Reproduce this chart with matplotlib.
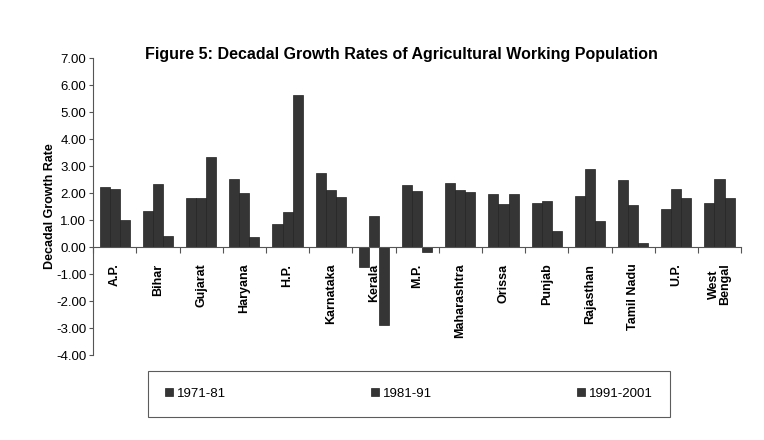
import numpy as np
import matplotlib
matplotlib.use("Agg")
import matplotlib.pyplot as plt

plt.rcParams['font.family'] = ['Liberation Sans', 'DejaVu Sans']

states = ["A.P.", "Bihar", "Gujarat", "Haryana", "H.P.", "Karnataka", "Kerala",
          "M.P.", "Maharashtra", "Orissa", "Punjab", "Rajasthan", "Tamil Nadu",
          "U.P.", "West\nBengal"]
g_1971_81 = [2.22, 1.33, 1.80, 2.52, 0.85, 2.74, -0.72, 2.30, 2.37, 1.95, 1.65, 1.90, 2.50, 1.40, 1.63]
g_1981_91 = [2.15, 2.33, 1.82, 2.00, 1.30, 2.10, 1.15, 2.07, 2.10, 1.60, 1.70, 2.90, 1.55, 2.15, 2.52]
g_1991_01 = [1.00, 0.40, 3.33, 0.37, 5.63, 1.85, -2.88, -0.20, 2.05, 1.95, 0.60, 0.95, 0.15, 1.80, 1.80]
series_names = ["1971-81", "1981-91", "1991-2001"]

bar_color = "#353535"

fig = plt.figure(figsize=(7.64, 4.40), dpi=100)
ax = fig.add_axes([0.122, 0.193, 0.848, 0.675])

x = np.arange(len(states))
w = 0.233
for i, (vals, name) in enumerate(zip([g_1971_81, g_1981_91, g_1991_01], series_names)):
    ax.bar(x + (i - 1) * w, vals, width=w, color=bar_color, edgecolor="#222222",
           linewidth=0.5, label=name)

ax.set_xlim(-0.5, len(states) - 0.5)
ax.set_ylim(-4, 7)
ax.set_yticks(np.arange(-4, 8, 1))
ax.set_yticklabels([f"{v:.2f}" for v in np.arange(-4, 8, 1)], fontsize=9.5)

ax.spines['top'].set_visible(False)
ax.spines['right'].set_visible(False)
ax.spines['bottom'].set_position(('data', 0))
ax.spines['bottom'].set_color("#555555")
ax.spines['left'].set_color("#555555")

ax.set_xticks(np.arange(len(states) + 1) - 0.5)
ax.set_xticklabels([])
ax.set_xticks(x, minor=True)
ax.set_xticklabels(states, minor=True, rotation=90, fontsize=9, fontweight='bold',
                   va='top', linespacing=0.9)
ax.tick_params(axis='x', which='major', length=4, direction='out', color="#555555")
ax.tick_params(axis='x', which='minor', length=0, pad=12)
ax.tick_params(axis='y', length=3, color="#555555", pad=2)

ax.set_ylabel("Decadal Growth Rate", fontsize=9, fontweight='bold', labelpad=0)

fig.text(0.525, 0.876, "Figure 5: Decadal Growth Rates of Agricultural Working Population",
         ha='center', va='center', fontsize=11.5, fontweight='bold')

leg = fig.legend(loc='center', bbox_to_anchor=(0.535, 0.105), ncol=3, fontsize=9.5,
                 handlelength=0.6, handleheight=0.6, handletextpad=0.3,
                 columnspacing=11, borderpad=1.3, fancybox=False, edgecolor="#333333")
leg.get_frame().set_linewidth(0.8)

fig.savefig("out.png", dpi=100)
